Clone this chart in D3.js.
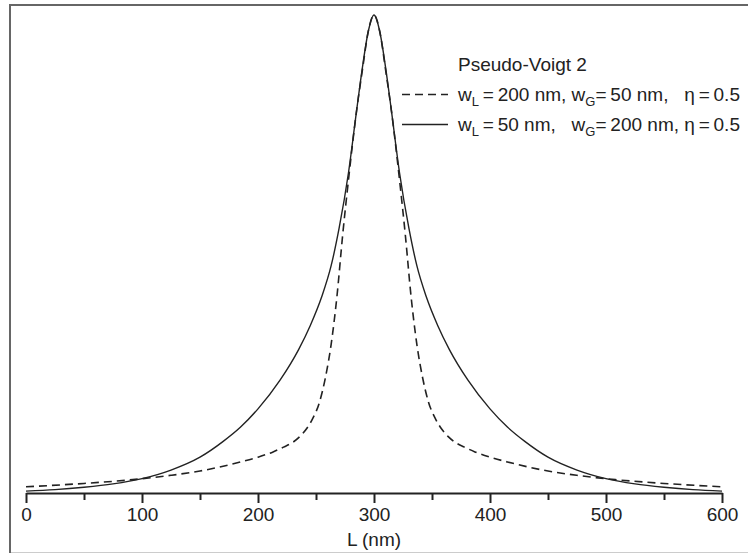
<!DOCTYPE html>
<html>
<head>
<meta charset="utf-8">
<script src="https://cdn.jsdelivr.net/npm/d3@7"></script>
<style>
  html, body { margin: 0; padding: 0; background: #fff; }
  svg { display: block; font-family: "Liberation Sans", Arial, sans-serif; }
  text { white-space: pre; fill: #222; }
</style>
</head>
<body>
<svg id="drawing_region"></svg>
<script>
// wavelength positions (nm) and normalised intensity
const solidL = [0, 25, 50, 75, 100, 125, 150, 170, 185, 200, 219, 235, 245, 255, 263, 270, 278, 285, 290, 295,
                300, 305, 310, 315, 322, 330, 337, 345, 355, 365, 381, 400, 415, 430, 450, 475, 500, 525, 550, 575, 600];
const solidI = [0.004, 0.007, 0.012, 0.019, 0.030, 0.048, 0.075, 0.108, 0.138, 0.176, 0.236, 0.30, 0.35, 0.411, 0.475, 0.555, 0.67, 0.80, 0.89, 0.965,
                1.0, 0.965, 0.89, 0.80, 0.67, 0.555, 0.475, 0.411, 0.35, 0.30, 0.236, 0.176, 0.138, 0.108, 0.075, 0.048, 0.030, 0.019, 0.012, 0.007, 0.004];

const dashedL = [0, 50, 92, 125, 150, 185, 200, 213, 222, 230, 236, 242, 247, 253, 258, 263, 268, 273, 278, 285, 290, 295,
                 300, 305, 310, 315, 322, 327, 332, 337, 342, 347, 353, 358, 364, 370, 378, 387, 400, 415, 450, 475, 508, 550, 600];
const dashedI = [0.013, 0.020, 0.028, 0.037, 0.046, 0.065, 0.075, 0.086, 0.096, 0.106, 0.118, 0.135, 0.155, 0.19, 0.24, 0.31, 0.41, 0.54, 0.655, 0.80, 0.885, 0.965,
                 1.0, 0.965, 0.885, 0.80, 0.655, 0.54, 0.41, 0.31, 0.24, 0.19, 0.155, 0.135, 0.118, 0.106, 0.096, 0.086, 0.075, 0.065, 0.046, 0.037, 0.028, 0.020, 0.013];

const majorTicks = [0, 100, 200, 300, 400, 500, 600];
const minorTicks = [50, 150, 250, 350, 450, 550];
const xLabel = 'L (nm)';
const legendTitle = 'Pseudo-Voigt 2';
// [text, subscript?]
const legendDashed = [['w'], ['L', 1], ['\u2009=\u2009200 nm, w'], ['G', 1], ['=\u200950 nm,   \u03b7\u2009=\u20090.5']];
const legendSolid  = [['w'], ['L', 1], ['\u2009=\u200950 nm,   w'], ['G', 1], ['=\u2009200 nm, \u03b7\u2009=\u20090.5']];

const W = 748, H = 554;
const svg = d3.select('#drawing_region').attr('width', W).attr('height', H);

// frame
svg.append('line').attr('x1', 10).attr('y1', 5).attr('x2', 10).attr('y2', 553)
    .attr('stroke', '#666').attr('stroke-width', 2);
svg.append('line').attr('x1', 9).attr('y1', 5).attr('x2', 748).attr('y2', 5)
    .attr('stroke', '#666').attr('stroke-width', 2);
svg.append('line').attr('x1', 11).attr('y1', 552.5).attr('x2', 748).attr('y2', 552.5)
    .attr('stroke', '#ccc').attr('stroke-width', 1);

const xscale = d3.scaleLinear().domain([0, 600]).range([26, 722]);
const yscale = d3.scaleLinear().domain([0, 1]).range([493, 15]);

// axes
const minorAxis = d3.axisBottom(xscale).tickValues(minorTicks).tickSize(7).tickFormat('').tickSizeOuter(0);
const majorAxis = d3.axisBottom(xscale).tickValues(majorTicks).tickSize(10).tickPadding(5).tickSizeOuter(0);

const gMinor = svg.append('g').attr('transform', 'translate(0,493)').call(minorAxis);
gMinor.select('.domain').remove();
gMinor.selectAll('line').attr('stroke', '#222').attr('stroke-width', 2);

const gMajor = svg.append('g').attr('transform', 'translate(0,493)').call(majorAxis);
gMajor.select('.domain').attr('stroke', '#222').attr('stroke-width', 2);
gMajor.selectAll('line').attr('stroke', '#222').attr('stroke-width', 2);
gMajor.selectAll('text').attr('font-size', 19).attr('font-family', '"Liberation Sans", Arial, sans-serif')
    .attr('fill', '#222');

svg.append('text').attr('x', xscale(300)).attr('y', 546).attr('text-anchor', 'middle')
    .attr('font-size', 19).text(xLabel);

// curves
const line = d3.line().x(d => xscale(d[0])).y(d => yscale(d[1])).curve(d3.curveMonotoneX);

svg.append('path').attr('d', line(dashedL.map((l, i) => [l, dashedI[i]])))
    .attr('fill', 'none').attr('stroke', '#222').attr('stroke-width', 1.6).attr('stroke-dasharray', '8,5');
svg.append('path').attr('d', line(solidL.map((l, i) => [l, solidI[i]])))
    .attr('fill', 'none').attr('stroke', '#222').attr('stroke-width', 1.4);

// legend
svg.append('text').attr('x', 458).attr('y', 71).attr('font-size', 19).text(legendTitle);

function legendRow(parts, y) {
    const t = svg.append('text').attr('x', 458).attr('y', y).attr('font-size', 19);
    let shifted = false;
    parts.forEach(p => {
        const sub = !!p[1];
        const dy = sub ? 5 : (shifted ? -5 : 0);
        t.append('tspan').attr('font-size', sub ? 13 : 19).attr('dy', dy).text(p[0]);
        shifted = sub;
    });
}
legendRow(legendDashed, 101);
legendRow(legendSolid, 131);

svg.append('line').attr('x1', 402).attr('x2', 448).attr('y1', 94.5).attr('y2', 94.5)
    .attr('stroke', '#222').attr('stroke-width', 1.6).attr('stroke-dasharray', '8,5');
svg.append('line').attr('x1', 402).attr('x2', 448).attr('y1', 124.5).attr('y2', 124.5)
    .attr('stroke', '#222').attr('stroke-width', 1.4);
</script>
</body>
</html>
